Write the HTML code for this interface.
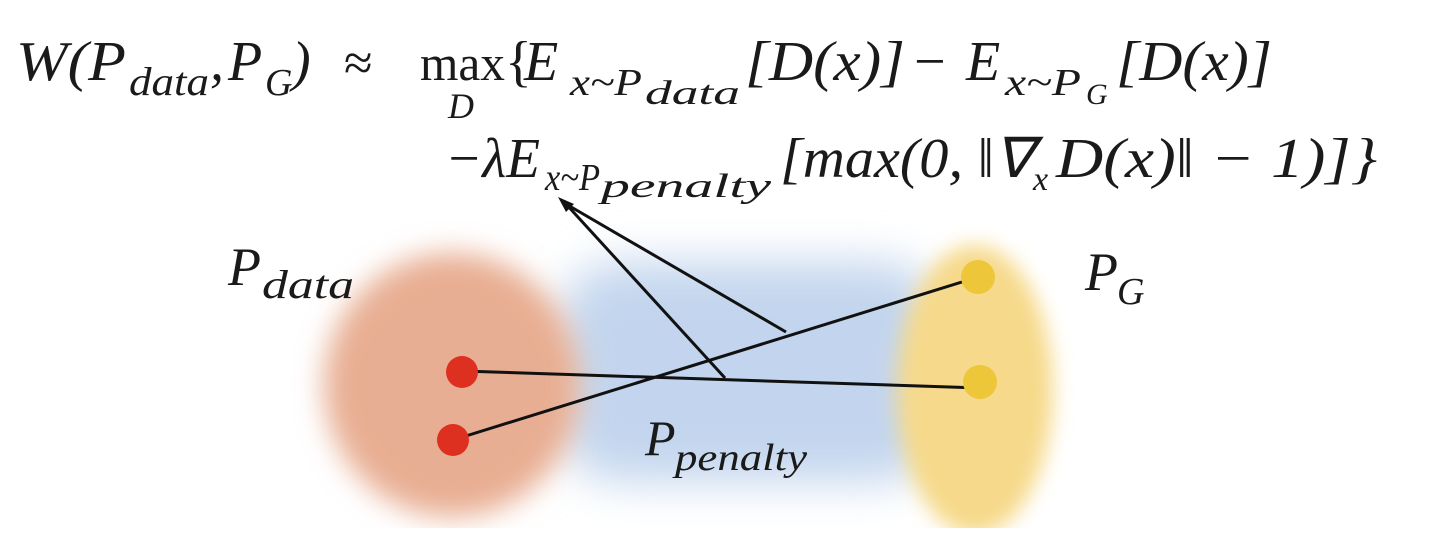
<!DOCTYPE html>
<html><head><meta charset="utf-8"><style>
html,body{margin:0;padding:0;background:#fff;width:1440px;height:548px;overflow:hidden}
svg text{font-family:"Liberation Serif",serif;font-style:italic;fill:#1a1a1a}
.up{font-style:normal}
</style></head><body>
<svg width="1440" height="548" viewBox="0 0 1440 548" xmlns="http://www.w3.org/2000/svg">
<defs>
<filter id="b1" x="-50%" y="-50%" width="200%" height="200%"><feGaussianBlur stdDeviation="22"/></filter>
<filter id="b2" x="-50%" y="-50%" width="200%" height="200%"><feGaussianBlur stdDeviation="14"/></filter>
<filter id="b3" x="-50%" y="-50%" width="200%" height="200%"><feGaussianBlur stdDeviation="10"/></filter>
</defs>
<rect x="560" y="262" width="380" height="220" rx="60" fill="#c3d5ee" filter="url(#b1)"/>
<ellipse cx="452" cy="385" rx="128" ry="132" fill="#e8ae93" filter="url(#b2)"/>
<ellipse cx="975" cy="390" rx="78" ry="145" fill="#f6d98a" filter="url(#b3)"/>
<rect x="0" y="528" width="1440" height="20" fill="#fff"/>
<g stroke="#111" stroke-width="3" fill="none">
<line x1="462" y1="371" x2="980" y2="388"/>
<line x1="453" y1="440" x2="978" y2="277"/>
<line x1="725" y1="378" x2="566" y2="204"/>
<line x1="786" y1="332" x2="566" y2="204"/>
</g>
<polygon points="558,197 574,204 566,212" fill="#111"/>
<circle cx="462" cy="372" r="16" fill="#de3020"/>
<circle cx="453" cy="440" r="16" fill="#de3020"/>
<circle cx="978" cy="277" r="17" fill="#eec63a"/>
<circle cx="980" cy="382" r="17" fill="#eec63a"/>
<!-- line 1 -->
<text x="16" y="80" font-size="56" textLength="110" lengthAdjust="spacingAndGlyphs">W(P</text>
<text x="129" y="95" font-size="40" textLength="80" lengthAdjust="spacingAndGlyphs">data</text>
<text x="210" y="80" font-size="56">,</text>
<text x="228" y="80" font-size="56">P</text>
<text x="265" y="95" font-size="38">G</text>
<text x="292" y="80" font-size="56">)</text>
<text x="344" y="80" font-size="52" class="up">≈</text>
<text x="420" y="80" font-size="50" class="up" textLength="85" lengthAdjust="spacingAndGlyphs">max</text>
<text x="448" y="118" font-size="36">D</text>
<text x="505" y="80" font-size="56" class="up">{</text>
<text x="524" y="80" font-size="56">E</text>
<text x="570" y="95" font-size="38" textLength="72" lengthAdjust="spacingAndGlyphs">x~P</text>
<text x="645" y="104" font-size="34" textLength="95" lengthAdjust="spacingAndGlyphs">data</text>
<text x="745" y="80" font-size="56" textLength="160" lengthAdjust="spacingAndGlyphs">[D(x)]</text>
<text x="914" y="80" font-size="56" class="up">−</text>
<text x="966" y="80" font-size="56">E</text>
<text x="1005" y="95" font-size="38" textLength="76" lengthAdjust="spacingAndGlyphs">x~P</text>
<text x="1086" y="104" font-size="30">G</text>
<text x="1116" y="80" font-size="56" textLength="156" lengthAdjust="spacingAndGlyphs">[D(x)]</text>
<!-- line 2 -->
<text x="445" y="177" font-size="56" textLength="95" lengthAdjust="spacingAndGlyphs">−λE</text>
<text x="545" y="190" font-size="38" textLength="55" lengthAdjust="spacingAndGlyphs">x~P</text>
<text x="601" y="197" font-size="34" textLength="170" lengthAdjust="spacingAndGlyphs">penalty</text>
<text x="780" y="177" font-size="56" textLength="253" lengthAdjust="spacingAndGlyphs">[max(0, ‖∇</text>
<text x="1033" y="190" font-size="34">x</text>
<text x="1056" y="177" font-size="56" textLength="321" lengthAdjust="spacingAndGlyphs">D(x)‖ − 1)]}</text>
<!-- labels -->
<text x="228" y="285" font-size="54">P</text>
<text x="262" y="298" font-size="40" textLength="92" lengthAdjust="spacingAndGlyphs">data</text>
<text x="1085" y="290" font-size="54">P</text>
<text x="1117" y="304" font-size="38">G</text>
<text x="645" y="455" font-size="50">P</text>
<text x="675" y="470" font-size="38" textLength="132" lengthAdjust="spacingAndGlyphs">penalty</text>
</svg>
</body></html>
